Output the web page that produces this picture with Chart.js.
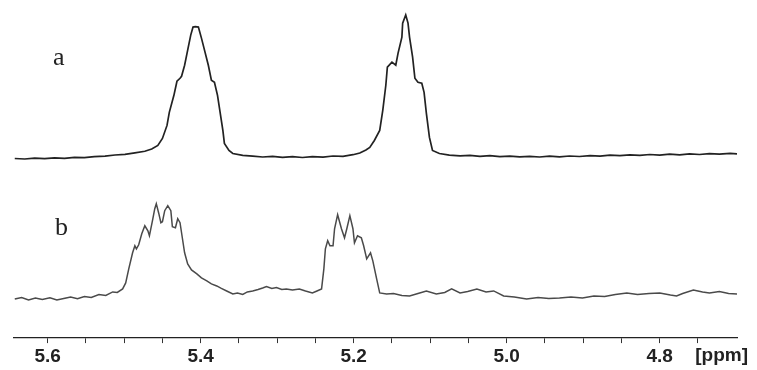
<!DOCTYPE html>
<html>
<head>
<meta charset="utf-8">
<script src="https://cdn.jsdelivr.net/npm/chart.js@4.4.1/dist/chart.umd.min.js"></script>
<style>
    html, body { margin: 0; padding: 0; background: #fff; }
    #wrap { width: 757px; height: 370px; }
</style>
</head>
<body>
<div id="wrap"><canvas id="nmrChart" width="757" height="370"></canvas></div>
<script>
// --- DATA (chemical shift in ppm, intensity in arbitrary units) ---
const ppmA = [
    5.643, 5.630, 5.617, 5.604, 5.591, 5.578, 5.565, 5.552, 5.539, 5.525,
    5.512, 5.499, 5.486, 5.473, 5.464, 5.456, 5.450, 5.444, 5.441, 5.435,
    5.431, 5.427, 5.425, 5.421, 5.417, 5.413, 5.410, 5.407, 5.403, 5.399,
    5.395, 5.390, 5.386, 5.382, 5.378, 5.375, 5.371, 5.369, 5.363, 5.358,
    5.345, 5.332, 5.319, 5.306, 5.293, 5.280, 5.267, 5.254, 5.240, 5.227,
    5.214, 5.201, 5.192, 5.184, 5.179, 5.173, 5.166, 5.162, 5.158, 5.156,
    5.150, 5.145, 5.142, 5.137, 5.136, 5.132, 5.129, 5.127, 5.123, 5.120,
    5.116, 5.111, 5.108, 5.105, 5.101, 5.097, 5.088, 5.075, 5.061, 5.048,
    5.035, 5.022, 5.009, 4.996, 4.983, 4.970, 4.957, 4.944, 4.931, 4.918,
    4.905, 4.891, 4.878, 4.865, 4.852, 4.839, 4.826, 4.813, 4.800, 4.787,
    4.774, 4.761, 4.748, 4.735, 4.722, 4.708, 4.699
];
const intensityA = [
    179.0, 178.5, 179.4, 178.8, 179.7, 179.1, 180.2, 179.8, 180.8, 181.4,
    182.5, 183.2, 184.7, 186.2, 188.5, 192, 199, 212, 225, 242,
    256, 259, 261, 272, 287, 302, 310, 310.5, 310, 299,
    287, 272, 257, 255, 242, 227, 207, 194, 187, 184,
    182.2, 181.4, 180.5, 181.1, 180.2, 180.8, 180.0, 180.9, 180.4, 181.5,
    181.2, 182.8, 184.5, 187.5, 190, 197, 207, 227, 252, 270,
    275, 272, 284, 300, 314, 322, 314, 300, 280, 259,
    255, 254, 245, 224, 200, 187, 184, 182.4, 181.7, 182.2,
    181.2, 181.8, 180.8, 181.4, 180.6, 181.1, 180.5, 181.3, 180.7, 181.5,
    181.0, 181.9, 181.4, 182.4, 181.8, 182.7, 182.1, 183.0, 182.4, 183.4,
    182.7, 183.6, 183.0, 183.9, 183.3, 184.1, 183.7
];

const ppmB = [
    5.643, 5.634, 5.625, 5.616, 5.607, 5.597, 5.588, 5.579, 5.570, 5.561,
    5.552, 5.543, 5.533, 5.524, 5.515, 5.509, 5.502, 5.498, 5.494, 5.489,
    5.486, 5.484, 5.481, 5.477, 5.473, 5.469, 5.467, 5.463, 5.460, 5.458,
    5.455, 5.452, 5.450, 5.447, 5.443, 5.439, 5.437, 5.433, 5.430, 5.427,
    5.425, 5.421, 5.417, 5.412, 5.405, 5.399, 5.392, 5.386, 5.379, 5.373,
    5.366, 5.358, 5.352, 5.345, 5.339, 5.332, 5.325, 5.319, 5.314, 5.307,
    5.301, 5.294, 5.288, 5.280, 5.271, 5.263, 5.254, 5.248, 5.242, 5.239,
    5.237, 5.234, 5.231, 5.227, 5.225, 5.221, 5.216, 5.212, 5.209, 5.205,
    5.201, 5.199, 5.195, 5.190, 5.187, 5.183, 5.178, 5.175, 5.170, 5.166,
    5.157, 5.148, 5.137, 5.127, 5.116, 5.105, 5.092, 5.081, 5.072, 5.061,
    5.051, 5.039, 5.027, 5.017, 5.004, 4.990, 4.974, 4.959, 4.945, 4.931,
    4.916, 4.901, 4.886, 4.872, 4.858, 4.843, 4.829, 4.814, 4.800, 4.786,
    4.778, 4.770, 4.756, 4.744, 4.735, 4.722, 4.710, 4.699
];
const intensityB = [
    39.0, 40.5, 38.0, 40.0, 38.5, 40.2, 38.0, 39.5, 41.0, 39.2,
    41.5, 40.5, 43.5, 42.5, 46.0, 45.5, 49.0, 55.0, 69.0, 85.0,
    92.0, 89.0, 93.0, 104.0, 112.0, 107.0, 102.0, 117.0, 129.0, 134.0,
    125.0, 115.0, 116.0, 127.0, 132.0, 127.0, 111.0, 110.0, 119.0, 115.0,
    105.0, 85.0, 74.0, 68.0, 64.0, 60.0, 57.0, 54.0, 52.0, 49.5,
    47.0, 44.0, 45.0, 43.5, 46.0, 47.0, 48.5, 50.0, 51.5, 49.5,
    50.5, 48.5, 49.0, 48.0, 49.0, 47.0, 45.0, 47.0, 49.0, 69.0,
    89.0, 97.0, 92.0, 92.0, 109.0, 123.0, 109.0, 100.0, 109.0, 122.0,
    109.0, 95.0, 102.0, 100.0, 92.0, 79.0, 85.0, 77.0, 59.0, 45.0,
    44.0, 44.5, 42.5, 42.0, 44.5, 47.0, 44.0, 45.5, 49.0, 45.0,
    46.5, 49.0, 46.0, 47.0, 42.0, 41.0, 39.0, 40.5, 39.5, 40.0,
    41.0, 40.0, 42.0, 41.5, 43.5, 45.0, 43.5, 44.5, 45.0, 43.0,
    42.0, 44.5, 48.0, 46.0, 45.0, 46.5, 44.5, 44.0
];

const tickValues = [5.60, 5.55, 5.50, 5.45, 5.40, 5.35, 5.30, 5.25, 5.20, 5.15,
                    5.10, 5.05, 5.00, 4.95, 4.90, 4.85, 4.80, 4.75];
const labelledTicks = [5.6, 5.4, 5.2, 5.0, 4.8];
const traceLabels = ['a', 'b'];

// --- Helpers ---
function toPoints(xs, ys) {
    return xs.map((x, i) => ({ x: x, y: ys[i] }));
}

// draws the "a"/"b" trace tags and the [ppm] unit
const annotationPlugin = {
    id: 'nmrAnnotations',
    afterDraw(chart) {
        const ctx = chart.ctx;
        const area = chart.chartArea;
        ctx.save();
        ctx.fillStyle = '#222';
        ctx.textAlign = 'left';
        ctx.textBaseline = 'alphabetic';
        ctx.font = '26px "Liberation Serif", "DejaVu Serif", serif';
        ctx.fillText(traceLabels[0], 53, 65);
        ctx.fillText(traceLabels[1], 55, 235);

        ctx.font = 'bold 19px "Liberation Sans", Arial, sans-serif';
        ctx.textAlign = 'right';
        ctx.textBaseline = 'middle';
        ctx.fillText('[ppm]', chart.width - 9, area.bottom + 18);
        ctx.restore();
    }
};

const chart = new Chart(document.getElementById('nmrChart'), {
    type: 'line',
    data: {
        datasets: [
            {
                label: 'a',
                data: toPoints(ppmA, intensityA),
                borderColor: '#222',
                borderWidth: 1.7,
                pointRadius: 0,
                tension: 0,
                fill: false
            },
            {
                label: 'b',
                data: toPoints(ppmB, intensityB),
                borderColor: '#4a4a4a',
                borderWidth: 1.5,
                pointRadius: 0,
                tension: 0,
                fill: false
            }
        ]
    },
    options: {
        responsive: false,
        animation: false,
        events: [],
        layout: { padding: { left: 14, right: 20, top: 0, bottom: 0 } },
        plugins: { legend: { display: false }, tooltip: { enabled: false } },
        scales: {
            x: {
                type: 'linear',
                reverse: true,
                min: 4.699,
                max: 5.644,
                afterBuildTicks(scale) {
                    scale.ticks = tickValues.map(v => ({ value: v }));
                },
                grid: { drawOnChartArea: false, drawTicks: true, tickLength: 5, color: '#333', lineWidth: 1 },
                border: { display: true, color: '#222', width: 1.3 },
                ticks: {
                    autoSkip: false,
                    maxRotation: 0,
                    padding: 3,
                    color: '#222',
                    font: { family: '"Liberation Sans", Arial, sans-serif', size: 19, weight: 'bold', lineHeight: 1.1 },
                    callback: (value) => labelledTicks.some(v => Math.abs(v - value) < 1e-6) ? Number(value).toFixed(1) : ''
                }
            },
            y: {
                display: false,
                min: 0,
                max: 337
            }
        }
    },
    plugins: [annotationPlugin]
});
</script>
</body>
</html>
